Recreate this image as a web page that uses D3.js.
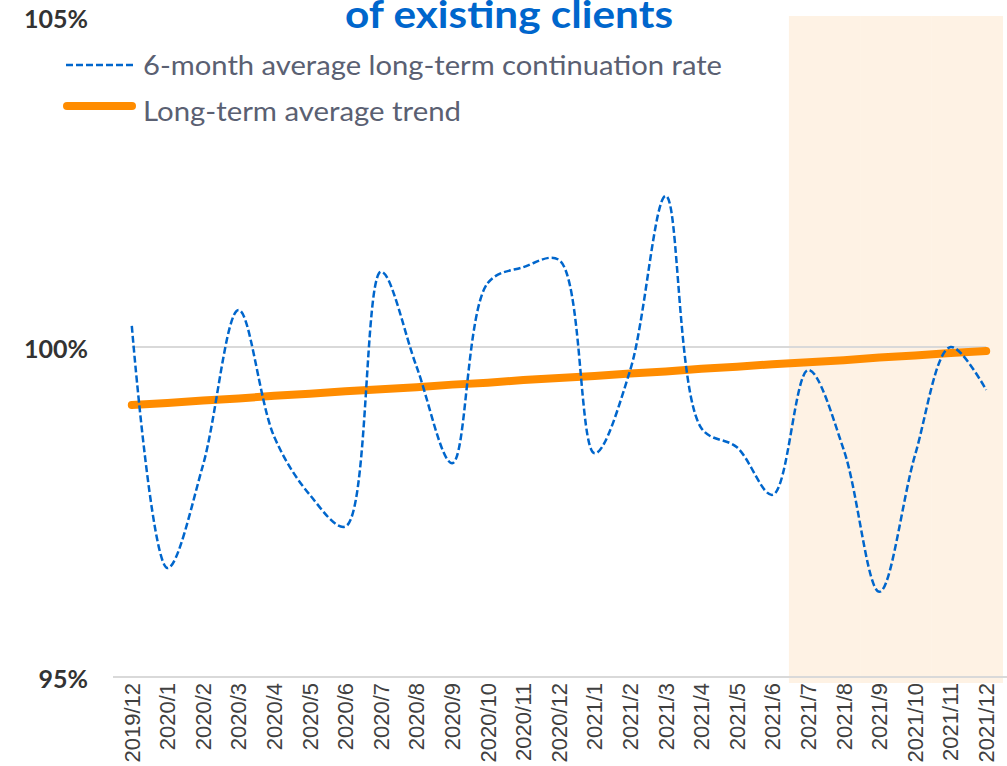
<!DOCTYPE html>
<html>
<head>
<meta charset="utf-8">
<script src="https://cdn.jsdelivr.net/npm/d3@7"></script>
<style>
  html, body { margin: 0; padding: 0; background: #fff; }
  svg { display: block; }
</style>
</head>
<body>
<div id="chart"></div>
<script>
// Continuation rate of existing clients – dashed 6-month avg vs. linear trend

const MONTHS = [
  "2019/12", "2020/1", "2020/2", "2020/3", "2020/4", "2020/5", "2020/6",
  "2020/7", "2020/8", "2020/9", "2020/10", "2020/11", "2020/12",
  "2021/1", "2021/2", "2021/3", "2021/4", "2021/5", "2021/6",
  "2021/7", "2021/8", "2021/9", "2021/10", "2021/11", "2021/12",
];
// 6-month average long-term continuation rate (%)
const RATE = [
  100.32, 96.65, 98.21, 100.56, 98.64, 97.76, 97.28,
  101.14, 99.70, 98.24, 100.97, 101.21, 101.32,
  98.39, 99.65, 102.29, 98.77, 98.48, 97.76,
  99.65, 98.44, 96.29, 98.36, 100.00, 99.35,
];
// Long-term average trend (%)
const TREND = [
  99.12, 99.15, 99.19, 99.22, 99.26, 99.29, 99.33,
  99.36, 99.39, 99.43, 99.46, 99.50, 99.53,
  99.56, 99.60, 99.63, 99.67, 99.70, 99.74,
  99.77, 99.80, 99.84, 99.87, 99.91, 99.94,
];
const HIGHLIGHT = ["2021/7", "2021/8", "2021/9", "2021/10", "2021/11", "2021/12"];
const Y_TICKS = [95, 100, 105];
const REF_LINE = 100;
const TITLE = "of existing clients";
const LEGEND = ["6-month average long-term continuation rate", "Long-term average trend"];

const BLUE = "#0066cc", ORANGE = "#ff8c00";

/* ── Layout ── */
const totalW = 1007, totalH = 766;
const margin = { top: 17, right: 3, bottom: 89, left: 114 };

const svg = d3.select("#chart").append("svg")
  .attr("width", totalW).attr("height", totalH);

/* ── Scales ── */
const x = d3.scaleBand().domain(MONTHS)
  .range([margin.left, totalW - margin.right]).padding(0);
const cx = m => x(m) + x.bandwidth() / 2;
const y = d3.scaleLinear().domain([95, 105])
  .range([totalH - margin.bottom, margin.top]);

/* ── Highlight band (2021 H2) ── */
svg.append("g").selectAll("rect")
  .data(HIGHLIGHT).join("rect")
  .attr("x", d => x(d) - 1.5).attr("width", x.bandwidth() + 0.5)
  .attr("y", y(105) - 1).attr("height", y(95) - y(105) + 7)
  .attr("fill", "#fef2e4");

/* ── 100% reference line ── */
svg.append("line")
  .attr("x1", cx(MONTHS[0])).attr("x2", cx(MONTHS[MONTHS.length - 1]))
  .attr("y1", y(REF_LINE)).attr("y2", y(REF_LINE))
  .attr("stroke", "#d9d9d9").attr("stroke-width", 2);

/* ── X axis ── */
const xAxis = svg.append("g")
  .attr("transform", `translate(0,${y(95)})`)
  .call(d3.axisBottom(x).tickSize(0).tickPadding(0));
xAxis.select(".domain").attr("stroke", "#d9d9d9").attr("stroke-width", 2)
  .attr("d", `M${margin.left - 1},0H${totalW}`);
xAxis.selectAll("text")
  .attr("font-family", "'Liberation Sans', Arial, sans-serif")
  .attr("font-size", 22).attr("fill", "#404040")
  .attr("transform", "translate(0,6) rotate(-90)")
  .attr("text-anchor", "end").attr("x", 0).attr("y", 0).attr("dy", "0.35em");

/* ── Y labels ── */
svg.append("g").selectAll("text")
  .data(Y_TICKS).join("text")
  .attr("x", 88).attr("y", d => y(d) + 2).attr("dy", "0.36em")
  .attr("text-anchor", "end")
  .attr("font-family", "Lato, sans-serif").attr("font-weight", 700)
  .attr("font-size", 25).attr("fill", "#333")
  .text(d => d + "%");

/* ── Trend line ── */
const trendLine = d3.line().x((d, i) => cx(MONTHS[i])).y(d => y(d));
svg.append("path").datum(TREND)
  .attr("fill", "none").attr("stroke", ORANGE).attr("stroke-width", 8)
  .attr("stroke-linecap", "round").attr("d", trendLine);

/* ── Rate line (smoothed, dashed) ── */
const rateLine = d3.line().x((d, i) => cx(MONTHS[i])).y(d => y(d))
  .curve(d3.curveCatmullRom.alpha(0.5));
svg.append("path").datum(RATE)
  .attr("fill", "none").attr("stroke", BLUE).attr("stroke-width", 2.5)
  .attr("stroke-dasharray", "7 3").attr("d", rateLine);

/* ── Title (first line falls outside the frame) ── */
svg.append("text")
  .attr("x", 509).attr("y", 28).attr("text-anchor", "middle")
  .attr("font-family", "Lato, sans-serif").attr("font-weight", 700)
  .attr("font-size", 38).attr("fill", BLUE)
  .attr("textLength", 328).attr("lengthAdjust", "spacingAndGlyphs")
  .text(TITLE);

/* ── Legend ── */
const lg = svg.append("g").attr("font-family", "Lato, sans-serif")
  .attr("font-size", 26).attr("fill", "#5a6072");

lg.append("line").attr("x1", 66).attr("x2", 133).attr("y1", 65).attr("y2", 65)
  .attr("stroke", BLUE).attr("stroke-width", 2.5).attr("stroke-dasharray", "7 3");
lg.append("text").attr("x", 143).attr("y", 75)
  .attr("textLength", 579).attr("lengthAdjust", "spacingAndGlyphs").text(LEGEND[0]);

lg.append("line").attr("x1", 67).attr("x2", 132).attr("y1", 106).attr("y2", 106)
  .attr("stroke", ORANGE).attr("stroke-width", 8).attr("stroke-linecap", "round");
lg.append("text").attr("x", 143).attr("y", 121)
  .attr("textLength", 318).attr("lengthAdjust", "spacingAndGlyphs").text(LEGEND[1]);
</script>
</body>
</html>
